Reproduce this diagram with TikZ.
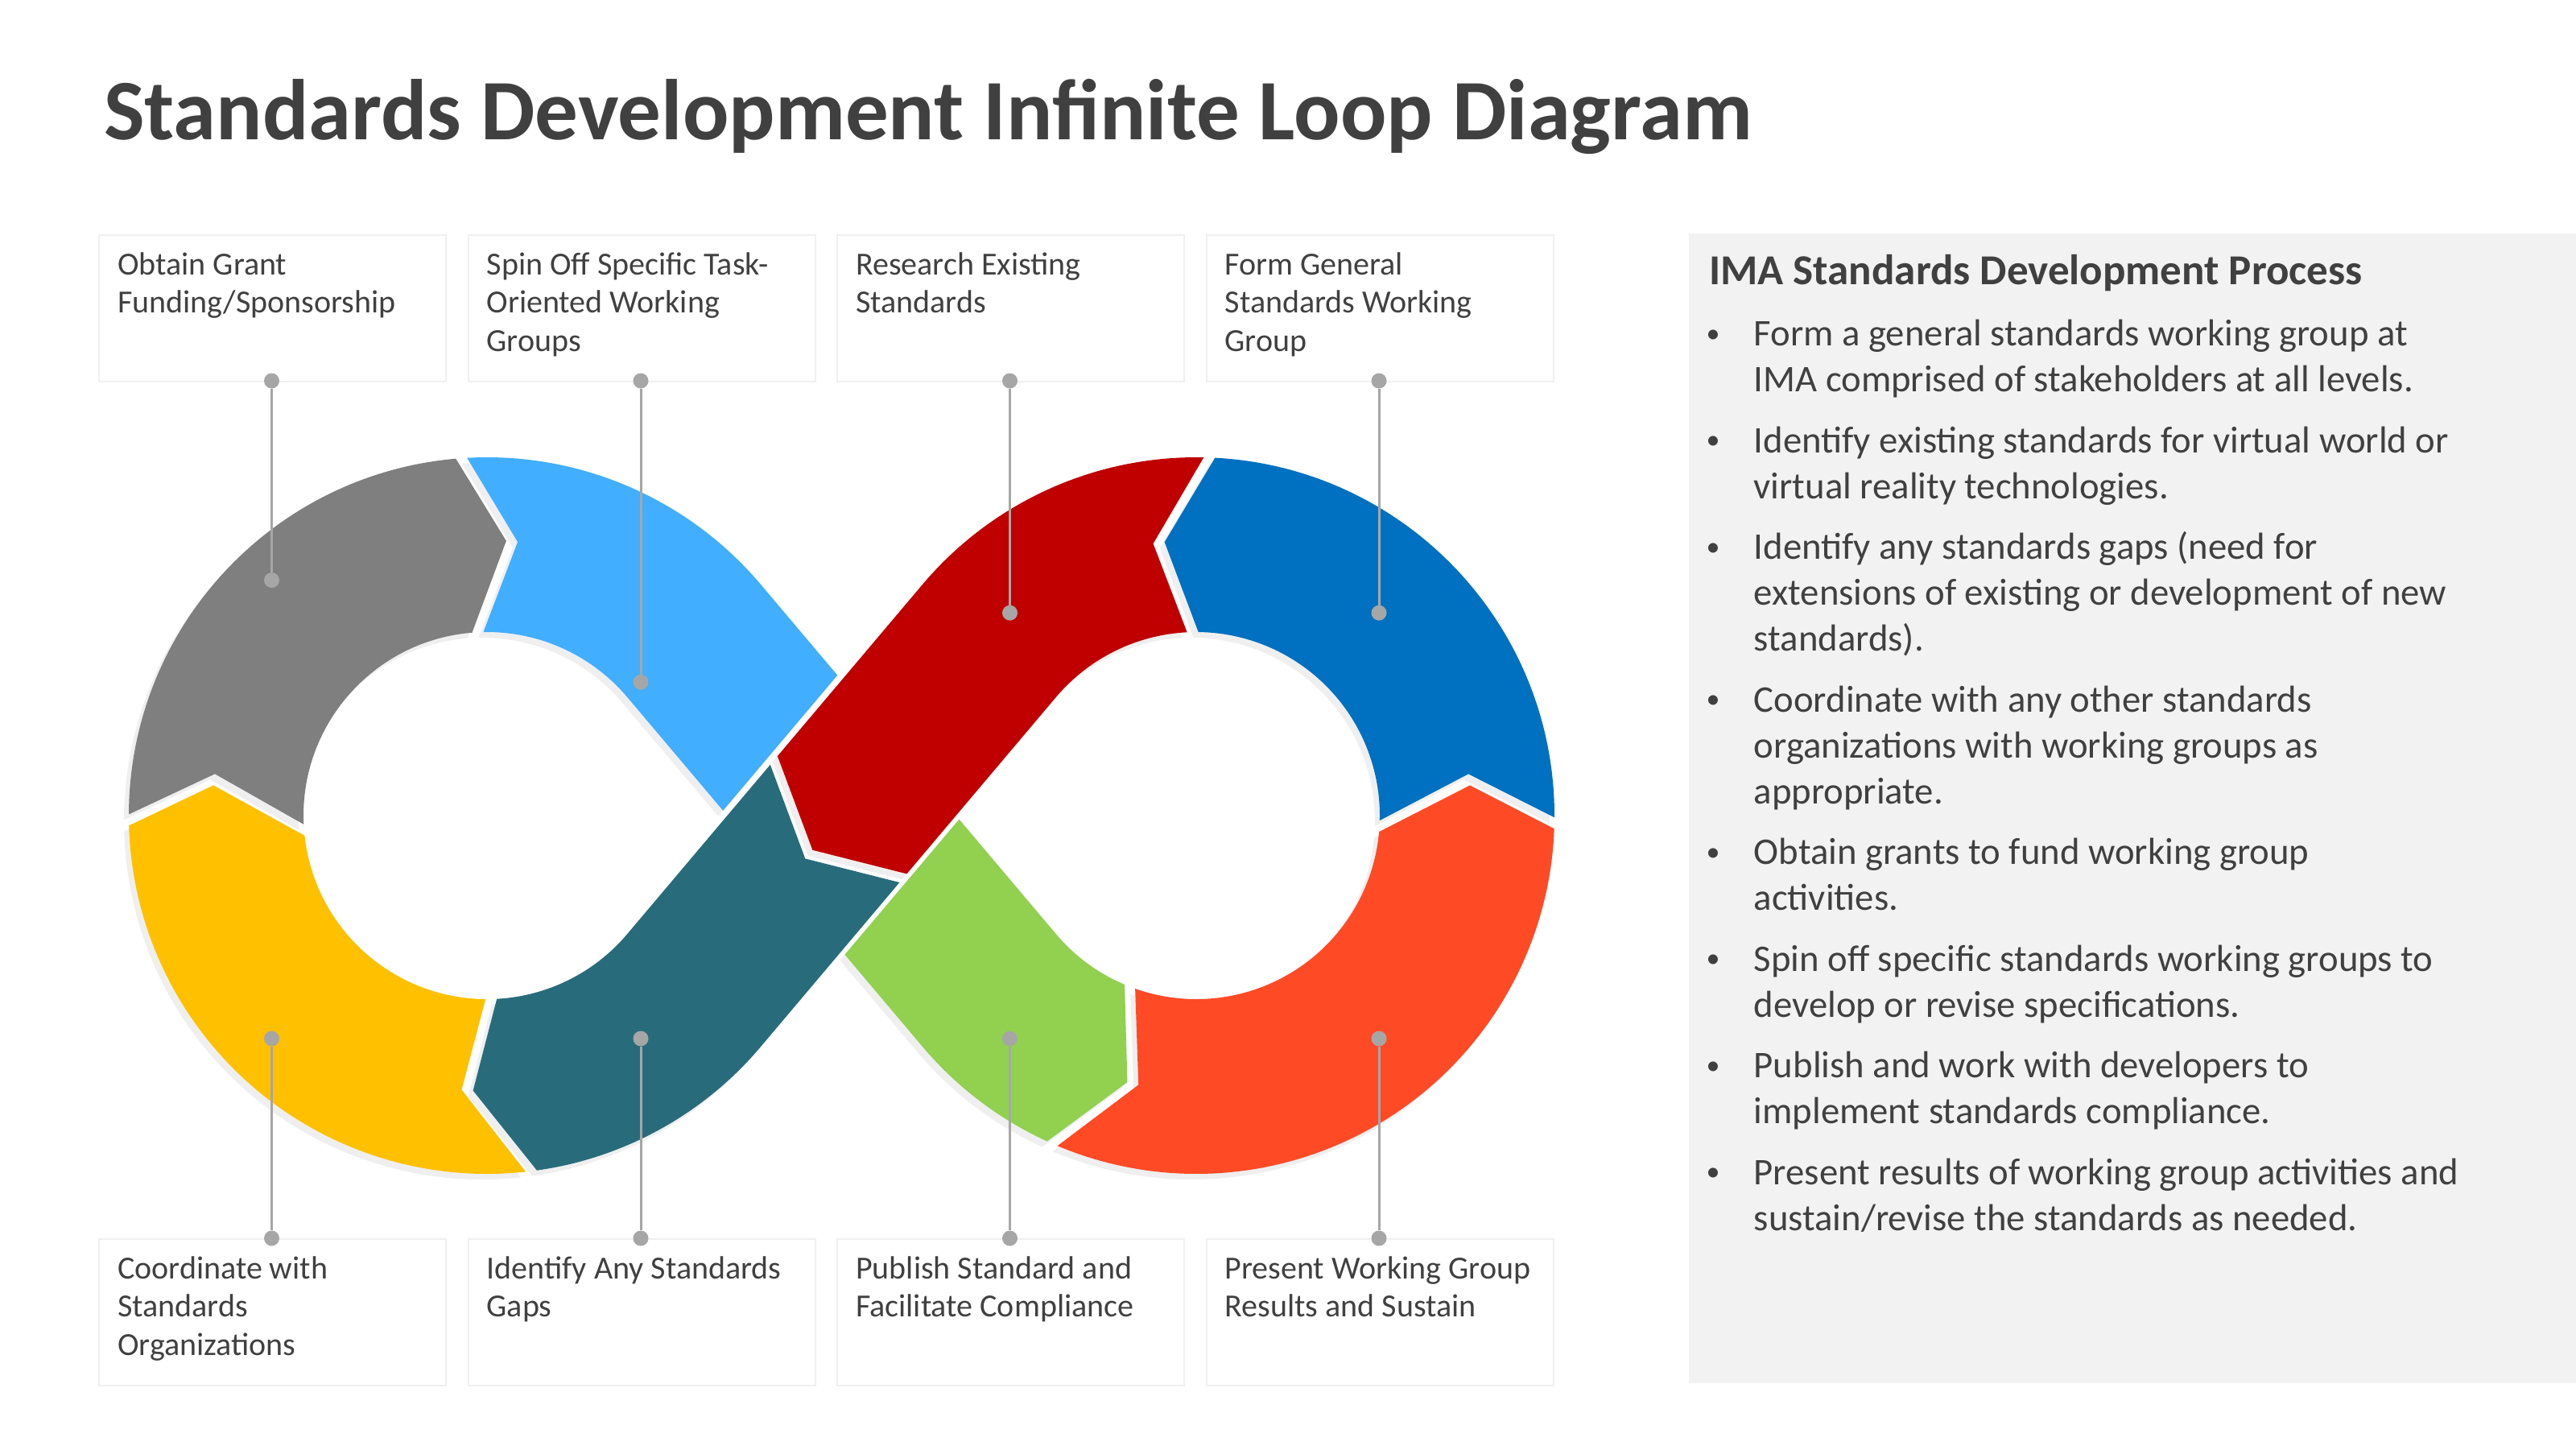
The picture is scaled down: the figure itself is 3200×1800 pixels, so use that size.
\documentclass[tikz,border=0pt]{standalone}
\usepackage{fontspec}
\setmainfont{Carlito}
\definecolor{txt}{HTML}{404040}
\definecolor{cgray}{HTML}{7F7F7F}
\definecolor{clblue}{HTML}{41AEFF}
\definecolor{cred}{HTML}{C00000}
\definecolor{cdblue}{HTML}{0070C0}
\definecolor{corange}{HTML}{FF4A26}
\definecolor{cgreen}{HTML}{92D050}
\definecolor{cteal}{HTML}{286C7C}
\definecolor{cyellow}{HTML}{FFC000}
\definecolor{shd}{HTML}{EFEFEF}
\definecolor{panelc}{HTML}{F2F2F2}
\definecolor{clinec}{HTML}{A6A6A6}
\definecolor{boxline}{HTML}{F0F0F0}

\newcommand\IPL[2]{({605+(#2)*cos(#1)},{1013+(#2)*sin(#1)})}
\newcommand\IPR[2]{({1486+(#2)*cos(#1)},{1013+(#2)*sin(#1)})}

\newcommand\ShGray{\IPL{180.2}{445} arc[start angle=180.2,end angle=265,radius=445] -- \IPL{274}{342} -- \IPL{265.34}{228} arc[start angle=265.34,end angle=177.26,radius=228] -- \IPL{188.7}{342} -- cycle}
\newcommand\ShBlue{\IPL{266.8}{445} arc[start angle=266.8,end angle=319.8,radius=445] -- (1040.26,838.7) -- (898.2,1006.8) -- \IPL{319.8}{228} arc[start angle=319.8,end angle=268.86,radius=228] -- \IPL{276.39}{342} -- cycle}
\newcommand\ShYellow{\IPL{83.8}{445} arc[start angle=83.8,end angle=178.4,radius=445] -- \IPL{186.31}{342} -- \IPL{173.74}{228} arc[start angle=173.74,end angle=90.46,radius=228] -- \IPL{95.29}{342} -- cycle}
\newcommand\ShTeal{(956.82,949.83) -- \IPL{40.2}{228} arc[start angle=40.2,end angle=86.94,radius=228] -- \IPL{92.91}{342} -- \IPL{82.0}{445} arc[start angle=82.0,end angle=40.2,radius=445] -- (1117.4,1096.02) -- (1000.31,1066.47) -- cycle}
\newcommand\ShRed{\IPR{-88.8}{445} arc[start angle=-88.8,end angle=-139.8,radius=445] -- (965.85,939.14) -- (1009.35,1055.77) -- (1126.43,1085.33) -- \IPR{-139.8}{228} arc[start angle=-139.8,end angle=-92.86,radius=228] -- \IPR{-98.99}{342} -- cycle}
\newcommand\ShDBlue{\IPR{0.3}{445} arc[start angle=0.3,end angle=-87,radius=445] -- \IPR{-96.61}{342} -- \IPR{-89.34}{228} arc[start angle=-89.34,end angle=1.54,radius=228] -- \IPR{-8.69}{342} -- cycle}
\newcommand\ShOrange{\IPR{112.8}{445} arc[start angle=112.8,end angle=2.1,radius=445] -- \IPR{-6.31}{342} -- \IPR{5.06}{228} arc[start angle=5.06,end angle=109.44,radius=228] -- \IPR{102.11}{342} -- cycle}
\newcommand\ShGreen{(1191.5,1017.65) -- \IPR{139.8}{228} arc[start angle=139.8,end angle=112.96,radius=228] -- \IPR{104.49}{342} -- \IPR{114.6}{445} arc[start angle=114.6,end angle=139.8,radius=445] -- (1049.43,1185.7) -- cycle}

\tikzset{
  lbox/.style={draw=boxline, line width=2, minimum width=431, minimum height=182, anchor=north west, inner sep=0},
  lbl/.style={anchor=base west, inner sep=0, text=txt, font=\fontsize{40}{47.5}\selectfont},
  ptxt/.style={anchor=base west, inner sep=0, text=txt, font=\fontsize{46.7}{57}\selectfont},
  pbul/.style={anchor=base, inner sep=0, text=txt, font=\fontsize{34}{40}\selectfont},
  pdot/.style={circle, fill=clinec, inner sep=0, minimum size=19},
  connline/.style={draw=clinec, line width=3},
  shadowfill/.style={fill=shd, shift={(-6,7)}}
}

\begin{document}
\begin{tikzpicture}[x=1pt,y=-1pt]
\useasboundingbox (0,0) rectangle (3200,1800);
\fill[white] (0,0) rectangle (3200,1800);

% title
\node[anchor=base west, inner sep=0, text=txt, font=\fontsize{107}{128}\selectfont\bfseries] (title) at (129,173) {Standards Development Infinite Loop Diagram};

% label boxes
\node[lbox] (bx1) at (122,291) {};
\node[lbox] (bx2) at (580.5,291) {};
\node[lbox] (bx3) at (1039,291) {};
\node[lbox] (bx4) at (1497.5,291) {};
\node[lbox] (bx5) at (122,1538) {};
\node[lbox] (bx6) at (580.5,1538) {};
\node[lbox] (bx7) at (1039,1538) {};
\node[lbox] (bx8) at (1497.5,1538) {};

\node[lbl] (t1) at (146,341) {\vtop{\hbox{Obtain Grant}\hbox{Funding/Sponsorship}}};
\node[lbl] (t2) at (604.5,341) {\vtop{\hbox{Spin Off Specific Task-}\hbox{Oriented Working}\hbox{Groups}}};
\node[lbl] (t3) at (1063,341) {\vtop{\hbox{Research Existing}\hbox{Standards}}};
\node[lbl] (t4) at (1521.5,341) {\vtop{\hbox{Form General}\hbox{Standards Working}\hbox{Group}}};
\node[lbl] (t5) at (146,1588) {\vtop{\hbox{Coordinate with}\hbox{Standards}\hbox{Organizations}}};
\node[lbl] (t6) at (604.5,1588) {\vtop{\hbox{Identify Any Standards}\hbox{Gaps}}};
\node[lbl] (t7) at (1063,1588) {\vtop{\hbox{Publish Standard and}\hbox{Facilitate Compliance}}};
\node[lbl] (t8) at (1521.5,1588) {\vtop{\hbox{Present Working Group}\hbox{Results and Sustain}}};

% shadows
\fill[shadowfill] \ShGray;
\fill[shadowfill] \ShBlue;
\fill[shadowfill] \ShYellow;
\fill[shadowfill] \ShTeal;
\fill[shadowfill] \ShRed;
\fill[shadowfill] \ShDBlue;
\fill[shadowfill] \ShOrange;
\fill[shadowfill] \ShGreen;

% segments
\fill[cgray] \ShGray;
\fill[clblue] \ShBlue;
\fill[cyellow] \ShYellow;
\fill[cteal] \ShTeal;
\fill[cgreen] \ShGreen;
\fill[corange] \ShOrange;
\fill[cdblue] \ShDBlue;
\fill[cred] \ShRed;

% connectors
\node[pdot] (a1) at (337.5,473) {};
\node[pdot] (a2) at (337.5,720.6) {};
\node[pdot] (b1) at (796,473) {};
\node[pdot] (b2) at (796,847.3) {};
\node[pdot] (c1) at (1254.5,473) {};
\node[pdot] (c2) at (1254.5,761.2) {};
\node[pdot] (d1) at (1713,473) {};
\node[pdot] (d2) at (1713,761.2) {};
\node[pdot] (e1) at (337.5,1290) {};
\node[pdot] (e2) at (337.5,1538) {};
\node[pdot] (f1) at (796,1290) {};
\node[pdot] (f2) at (796,1538) {};
\node[pdot] (g1) at (1254.5,1290) {};
\node[pdot] (g2) at (1254.5,1538) {};
\node[pdot] (h1) at (1713,1290) {};
\node[pdot] (h2) at (1713,1538) {};
\draw[connline] (a1) -- (a2);
\draw[connline] (b1) -- (b2);
\draw[connline] (c1) -- (c2);
\draw[connline] (d1) -- (d2);
\draw[connline] (e1) -- (e2);
\draw[connline] (f1) -- (f2);
\draw[connline] (g1) -- (g2);
\draw[connline] (h1) -- (h2);

% right panel
\fill[panelc] (2098,290) rectangle (3200,1718);
\node[anchor=base west, inner sep=0, text=txt, font=\fontsize{53}{62}\selectfont\bfseries] (ph) at (2123,353.7) {IMA Standards Development Process};

\node[pbul] (u1) at (2128,425) {•};
\node[ptxt] (p1) at (2178.6,429.6) {\vtop{\hbox{Form a general standards working group at}\hbox{IMA comprised of stakeholders at all levels.}}};
\node[pbul] (u2) at (2128,557.5) {•};
\node[ptxt] (p2) at (2178.6,562.1) {\vtop{\hbox{Identify existing standards for virtual world or}\hbox{virtual reality technologies.}}};
\node[pbul] (u3) at (2128,690) {•};
\node[ptxt] (p3) at (2178.6,694.6) {\vtop{\hbox{Identify any standards gaps (need for}\hbox{extensions of existing or development of new}\hbox{standards).}}};
\node[pbul] (u4) at (2128,879.5) {•};
\node[ptxt] (p4) at (2178.6,884.1) {\vtop{\hbox{Coordinate with any other standards}\hbox{organizations with working groups as}\hbox{appropriate.}}};
\node[pbul] (u5) at (2128,1069) {•};
\node[ptxt] (p5) at (2178.6,1073.6) {\vtop{\hbox{Obtain grants to fund working group}\hbox{activities.}}};
\node[pbul] (u6) at (2128,1201.5) {•};
\node[ptxt] (p6) at (2178.6,1206.1) {\vtop{\hbox{Spin off specific standards working groups to}\hbox{develop or revise specifications.}}};
\node[pbul] (u7) at (2128,1334) {•};
\node[ptxt] (p7) at (2178.6,1338.6) {\vtop{\hbox{Publish and work with developers to}\hbox{implement standards compliance.}}};
\node[pbul] (u8) at (2128,1466.5) {•};
\node[ptxt] (p8) at (2178.6,1471.1) {\vtop{\hbox{Present results of working group activities and}\hbox{sustain/revise the standards as needed.}}};
\end{tikzpicture}
\end{document}
